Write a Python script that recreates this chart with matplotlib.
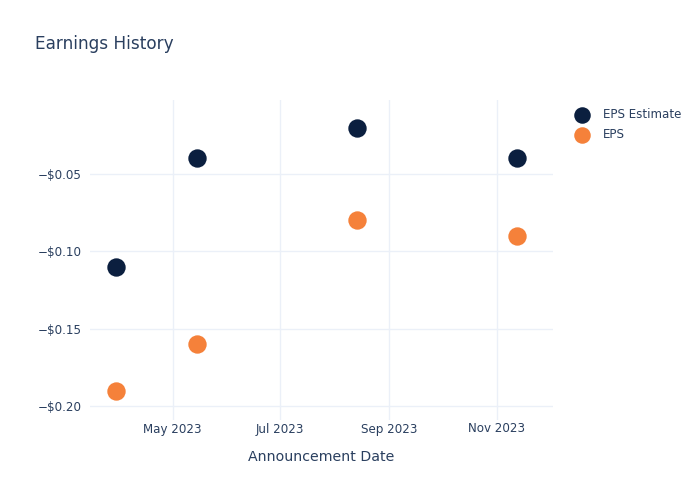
import matplotlib
matplotlib.use("Agg")
import matplotlib.pyplot as plt
import matplotlib.dates as mdates
from matplotlib.ticker import FuncFormatter, FixedLocator
import numpy as np
import datetime as dt

dates = ["2023-03-30 00:00", "2023-05-14 12:00", "2023-08-13 12:00", "2023-11-12 12:00"]
eps_estimate = [-0.11, -0.04, -0.02, -0.04]
eps_actual = [-0.19, -0.16, -0.08, -0.09]
tick_dates = ["2023-05-01", "2023-07-01", "2023-09-01", "2023-11-01"]
tick_labels = ["May 2023", "Jul 2023", "Sep 2023", "Nov 2023"]
y_ticks = [-0.05, -0.10, -0.15, -0.20]

TEXT = "#2a3f5f"
GRID = "#ebf0f8"
NAVY = "#0b1f3f"
ORANGE = "#f5813a"

plt.rcParams['font.family'] = ['DejaVu Sans']

fig = plt.figure(figsize=(7, 5), dpi=100)
ax = fig.add_axes([90/700, 1-420/500, (553-90)/700, (420-100)/500])

x = [dt.datetime.strptime(d, "%Y-%m-%d %H:%M") for d in dates]
ax.scatter(x, eps_estimate, s=175, color=NAVY, label="EPS Estimate", zorder=3, linewidths=0)
ax.scatter(x, eps_actual, s=175, color=ORANGE, label="EPS", zorder=3, linewidths=0)

ax.set_xlim(dt.datetime(2023, 3, 15), dt.datetime(2023, 12, 3))
ax.set_ylim(-0.209, -0.0022)

tx = [mdates.date2num(dt.datetime.strptime(d, "%Y-%m-%d")) for d in tick_dates]
ax.xaxis.set_major_locator(FixedLocator(tx))
ax.set_xticklabels(tick_labels)
ax.set_yticks(y_ticks)
ax.yaxis.set_major_formatter(FuncFormatter(lambda v, p: ("\u2212" if v < 0 else "") + "${:.2f}".format(abs(v))))

for s in ax.spines.values():
    s.set_visible(False)
ax.grid(True, color=GRID, linewidth=1)
ax.set_axisbelow(True)
ax.tick_params(axis='both', length=0, labelsize=8.6, colors=TEXT, pad=6)
ax.tick_params(axis='x', pad=1.8)

ax.set_xlabel("Announcement Date", fontsize=10.2, color=TEXT, labelpad=10.5)
fig.text(35/700, 1-44/500, "Earnings History", fontsize=12.2, color=TEXT, va='center', ha='left')

leg = fig.legend(loc='upper left', bbox_to_anchor=(565/700, 1-103/500), frameon=False,
                 fontsize=8.6, labelcolor=TEXT, markerscale=0.9, handletextpad=0.8,
                 labelspacing=0.6, borderaxespad=0)

fig.savefig("out.png", dpi=100)
